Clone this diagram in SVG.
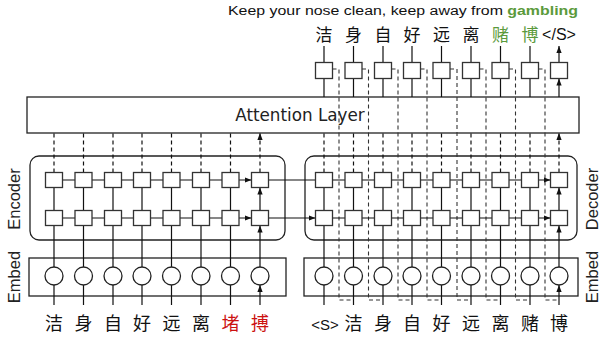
<svg xmlns="http://www.w3.org/2000/svg" width="600" height="343" viewBox="0 0 600 343">
<defs>
<marker id="ah" viewBox="0 0 8 6" refX="8" refY="3" markerWidth="7" markerHeight="6" markerUnits="userSpaceOnUse" orient="auto"><path d="M0,0L8,3L0,6z" fill="#111"/></marker>
<style>
.box{fill:#fff;stroke:#222;stroke-width:1.3}
.frame{fill:none;stroke:#222;stroke-width:1.3}
.cell{fill:#fff;stroke:#333;stroke-width:1.3}
.emb{fill:#fff;stroke:#222;stroke-width:1.3}
.ln{fill:none;stroke:#111;stroke-width:1.2;marker-end:url(#ah)}
.dl{fill:none;stroke:#111;stroke-width:1.2;stroke-dasharray:4,3;marker-end:url(#ah)}
.fb{fill:none;stroke:#333;stroke-width:1.1;stroke-dasharray:4,3}
.lab{font-family:"Liberation Sans",Arial,sans-serif;font-size:16.5px;fill:#222;text-anchor:middle}
.cjk{font-family:"Noto Sans CJK SC","Noto Sans",sans-serif;fill:#111;text-anchor:middle}
.bot{font-size:18px}
.top{font-size:17px}
.red{fill:#cc1111}
.grn{fill:#5b9a3c}
</style>
</defs>
<g id="caption"><text x="228" y="15" font-family="Liberation Sans, Arial, sans-serif" font-size="12.5" fill="#111" textLength="350" lengthAdjust="spacingAndGlyphs">Keep your nose clean, keep away from <tspan font-weight="bold" fill="#5b9a3c">gambling</tspan></text></g>
<g id="labels">
<text class="lab" transform="translate(20,199) rotate(-90)">Encoder</text>
<text class="lab" transform="translate(20,277) rotate(-90)">Embed</text>
<text class="lab" transform="translate(598,199) rotate(-90)">Decoder</text>
<text class="lab" transform="translate(598,277) rotate(-90)">Embed</text>
</g>
<g id="frames">
<rect id="encoder" class="frame" x="30" y="156" width="255" height="84" rx="9"/>
<rect id="decoder" class="frame" x="305" y="156" width="272" height="84" rx="9"/>
<rect id="enc-embed" class="frame" x="29" y="258" width="257" height="38"/>
<rect id="dec-embed" class="frame" x="304" y="258" width="274" height="38"/>
</g>
<g id="attention"><rect class="box" x="27" y="97" width="552" height="36"/><text x="300" y="121" font-family="DejaVu Sans, sans-serif" font-size="16.8" fill="#222" text-anchor="middle">Attention Layer</text></g>
<g id="connectors">
<!-- encoder -->
<path class="ln" d="M54,305V285M83.5,305V285M113,305V285M142,305V285M171.5,305V285M201,305V285M230.5,305V285M260,305V285"/>
<path class="ln" d="M54,267V225.5M83.5,267V225.5M113,267V225.5M142,267V225.5M171.5,267V225.5M201,267V225.5M230.5,267V225.5M260,267V225.5"/>
<path class="ln" d="M54,210.5V187.5M83.5,210.5V187.5M113,210.5V187.5M142,210.5V187.5M171.5,210.5V187.5M201,210.5V187.5M230.5,210.5V187.5M260,210.5V187.5"/>
<path class="ln" d="M62.5,218H75M92,218H104.5M121.5,218H133.5M150.5,218H163M180,218H192.5M209.5,218H222M239,218H251.5"/>
<path class="ln" d="M62.5,180H75M92,180H104.5M121.5,180H133.5M150.5,180H163M180,180H192.5M209.5,180H222M239,180H251.5"/>
<path class="dl" d="M54,172.5V133M83.5,172.5V133M113,172.5V133M142,172.5V133M171.5,172.5V133M201,172.5V133M230.5,172.5V133M260,172.5V133"/>
<!-- encoder to decoder -->
<path class="ln" d="M268.5,180H315.5M268.5,218H315.5"/>
<!-- feedback -->
<path class="fb" d="M332.5,69H339V300H353.5M362,69H368.5V300H383M391.5,69H398V300H412M420.5,69H427V300H441.5M450,69H457V300H471M479.5,69H486V300H500.5M509,69H515.5V300H530M538.5,69H545V300H559"/>
<!-- decoder -->
<path class="ln" d="M324,305V285M353.5,305V285M383,305V285M412,305V285M441.5,305V285M471,305V285M500.5,305V285M530,305V285M559,305V285"/>
<path class="ln" d="M324,267V225.5M353.5,267V225.5M383,267V225.5M412,267V225.5M441.5,267V225.5M471,267V225.5M500.5,267V225.5M530,267V225.5M559,267V225.5"/>
<path class="ln" d="M324,210.5V187.5M353.5,210.5V187.5M383,210.5V187.5M412,210.5V187.5M441.5,210.5V187.5M471,210.5V187.5M500.5,210.5V187.5M530,210.5V187.5M559,210.5V187.5"/>
<path class="ln" d="M332.5,218H345M362,218H374.5M391.5,218H403.5M420.5,218H433M450,218H462.5M479.5,218H492M509,218H521.5M538.5,218H550.5"/>
<path class="ln" d="M332.5,180H345M362,180H374.5M391.5,180H403.5M420.5,180H433M450,180H462.5M479.5,180H492M509,180H521.5M538.5,180H550.5"/>
<path class="dl" d="M324,172.5V133M353.5,172.5V133M383,172.5V133M412,172.5V133M441.5,172.5V133M471,172.5V133M500.5,172.5V133M530,172.5V133M559,172.5V133"/>
<path class="ln" d="M324,97V78.5M353.5,97V78.5M383,97V78.5M412,97V78.5M441.5,97V78.5M471,97V78.5M500.5,97V78.5M530,97V78.5M559,97V78.5"/>
<path class="ln" d="M324,62.5V46M353.5,62.5V46M383,62.5V46M412,62.5V46M441.5,62.5V46M471,62.5V46M500.5,62.5V46M530,62.5V46M559,62.5V46"/>
</g>
<g id="enc-cells">
<g id="e1t"><rect class="cell" x="45.5" y="172.5" width="17" height="15"/></g>
<g id="e2t"><rect class="cell" x="75" y="172.5" width="17" height="15"/></g>
<g id="e3t"><rect class="cell" x="104.5" y="172.5" width="17" height="15"/></g>
<g id="e4t"><rect class="cell" x="133.5" y="172.5" width="17" height="15"/></g>
<g id="e5t"><rect class="cell" x="163" y="172.5" width="17" height="15"/></g>
<g id="e6t"><rect class="cell" x="192.5" y="172.5" width="17" height="15"/></g>
<g id="e7t"><rect class="cell" x="222" y="172.5" width="17" height="15"/></g>
<g id="e8t"><rect class="cell" x="251.5" y="172.5" width="17" height="15"/></g>
<g id="e1b"><rect class="cell" x="45.5" y="210.5" width="17" height="15"/></g>
<g id="e2b"><rect class="cell" x="75" y="210.5" width="17" height="15"/></g>
<g id="e3b"><rect class="cell" x="104.5" y="210.5" width="17" height="15"/></g>
<g id="e4b"><rect class="cell" x="133.5" y="210.5" width="17" height="15"/></g>
<g id="e5b"><rect class="cell" x="163" y="210.5" width="17" height="15"/></g>
<g id="e6b"><rect class="cell" x="192.5" y="210.5" width="17" height="15"/></g>
<g id="e7b"><rect class="cell" x="222" y="210.5" width="17" height="15"/></g>
<g id="e8b"><rect class="cell" x="251.5" y="210.5" width="17" height="15"/></g>
</g>
<g id="dec-cells">
<g id="d1t"><rect class="cell" x="315.5" y="172.5" width="17" height="15"/></g>
<g id="d2t"><rect class="cell" x="345" y="172.5" width="17" height="15"/></g>
<g id="d3t"><rect class="cell" x="374.5" y="172.5" width="17" height="15"/></g>
<g id="d4t"><rect class="cell" x="403.5" y="172.5" width="17" height="15"/></g>
<g id="d5t"><rect class="cell" x="433" y="172.5" width="17" height="15"/></g>
<g id="d6t"><rect class="cell" x="462.5" y="172.5" width="17" height="15"/></g>
<g id="d7t"><rect class="cell" x="492" y="172.5" width="17" height="15"/></g>
<g id="d8t"><rect class="cell" x="521.5" y="172.5" width="17" height="15"/></g>
<g id="d9t"><rect class="cell" x="550.5" y="172.5" width="17" height="15"/></g>
<g id="d1b"><rect class="cell" x="315.5" y="210.5" width="17" height="15"/></g>
<g id="d2b"><rect class="cell" x="345" y="210.5" width="17" height="15"/></g>
<g id="d3b"><rect class="cell" x="374.5" y="210.5" width="17" height="15"/></g>
<g id="d4b"><rect class="cell" x="403.5" y="210.5" width="17" height="15"/></g>
<g id="d5b"><rect class="cell" x="433" y="210.5" width="17" height="15"/></g>
<g id="d6b"><rect class="cell" x="462.5" y="210.5" width="17" height="15"/></g>
<g id="d7b"><rect class="cell" x="492" y="210.5" width="17" height="15"/></g>
<g id="d8b"><rect class="cell" x="521.5" y="210.5" width="17" height="15"/></g>
<g id="d9b"><rect class="cell" x="550.5" y="210.5" width="17" height="15"/></g>
</g>
<g id="out-cells">
<g id="o1"><rect class="cell" x="315.5" y="62.5" width="17" height="16"/></g>
<g id="o2"><rect class="cell" x="345" y="62.5" width="17" height="16"/></g>
<g id="o3"><rect class="cell" x="374.5" y="62.5" width="17" height="16"/></g>
<g id="o4"><rect class="cell" x="403.5" y="62.5" width="17" height="16"/></g>
<g id="o5"><rect class="cell" x="433" y="62.5" width="17" height="16"/></g>
<g id="o6"><rect class="cell" x="462.5" y="62.5" width="17" height="16"/></g>
<g id="o7"><rect class="cell" x="492" y="62.5" width="17" height="16"/></g>
<g id="o8"><rect class="cell" x="521.5" y="62.5" width="17" height="16"/></g>
<g id="o9"><rect class="cell" x="550.5" y="62.5" width="17" height="16"/></g>
</g>
<g id="enc-embeds">
<g id="ee1"><circle class="emb" cx="54" cy="276" r="9"/></g>
<g id="ee2"><circle class="emb" cx="83.5" cy="276" r="9"/></g>
<g id="ee3"><circle class="emb" cx="113" cy="276" r="9"/></g>
<g id="ee4"><circle class="emb" cx="142" cy="276" r="9"/></g>
<g id="ee5"><circle class="emb" cx="171.5" cy="276" r="9"/></g>
<g id="ee6"><circle class="emb" cx="201" cy="276" r="9"/></g>
<g id="ee7"><circle class="emb" cx="230.5" cy="276" r="9"/></g>
<g id="ee8"><circle class="emb" cx="260" cy="276" r="9"/></g>
</g>
<g id="dec-embeds">
<g id="de1"><circle class="emb" cx="324" cy="276" r="9"/></g>
<g id="de2"><circle class="emb" cx="353.5" cy="276" r="9"/></g>
<g id="de3"><circle class="emb" cx="383" cy="276" r="9"/></g>
<g id="de4"><circle class="emb" cx="412" cy="276" r="9"/></g>
<g id="de5"><circle class="emb" cx="441.5" cy="276" r="9"/></g>
<g id="de6"><circle class="emb" cx="471" cy="276" r="9"/></g>
<g id="de7"><circle class="emb" cx="500.5" cy="276" r="9"/></g>
<g id="de8"><circle class="emb" cx="530" cy="276" r="9"/></g>
<g id="de9"><circle class="emb" cx="559" cy="276" r="9"/></g>
</g>
<g id="enc-input">
<text class="cjk bot" x="54" y="330">洁</text>
<text class="cjk bot" x="83.5" y="330">身</text>
<text class="cjk bot" x="113" y="330">自</text>
<text class="cjk bot" x="142" y="330">好</text>
<text class="cjk bot" x="171.5" y="330">远</text>
<text class="cjk bot" x="201" y="330">离</text>
<text class="cjk bot red" x="230.5" y="330">堵</text>
<text class="cjk bot red" x="260" y="330">搏</text>
</g>
<g id="dec-input">
<text x="325" y="330" font-family="Liberation Sans, Arial, sans-serif" font-size="15" fill="#111" text-anchor="middle">&lt;S&gt;</text>
<text class="cjk bot" x="353.5" y="330">洁</text>
<text class="cjk bot" x="383" y="330">身</text>
<text class="cjk bot" x="412" y="330">自</text>
<text class="cjk bot" x="441.5" y="330">好</text>
<text class="cjk bot" x="471" y="330">远</text>
<text class="cjk bot" x="500.5" y="330">离</text>
<text class="cjk bot" x="530" y="330">赌</text>
<text class="cjk bot" x="559" y="330">博</text>
</g>
<g id="output">
<text class="cjk top" x="324" y="41">洁</text>
<text class="cjk top" x="353.5" y="41">身</text>
<text class="cjk top" x="383" y="41">自</text>
<text class="cjk top" x="412" y="41">好</text>
<text class="cjk top" x="441.5" y="41">远</text>
<text class="cjk top" x="471" y="41">离</text>
<text class="cjk top grn" x="500.5" y="41">赌</text>
<text class="cjk top grn" x="530" y="41">博</text>
<text x="559" y="40" font-family="Liberation Sans, Arial, sans-serif" font-size="16" fill="#111" text-anchor="middle">&lt;/S&gt;</text>
</g>
</svg>
